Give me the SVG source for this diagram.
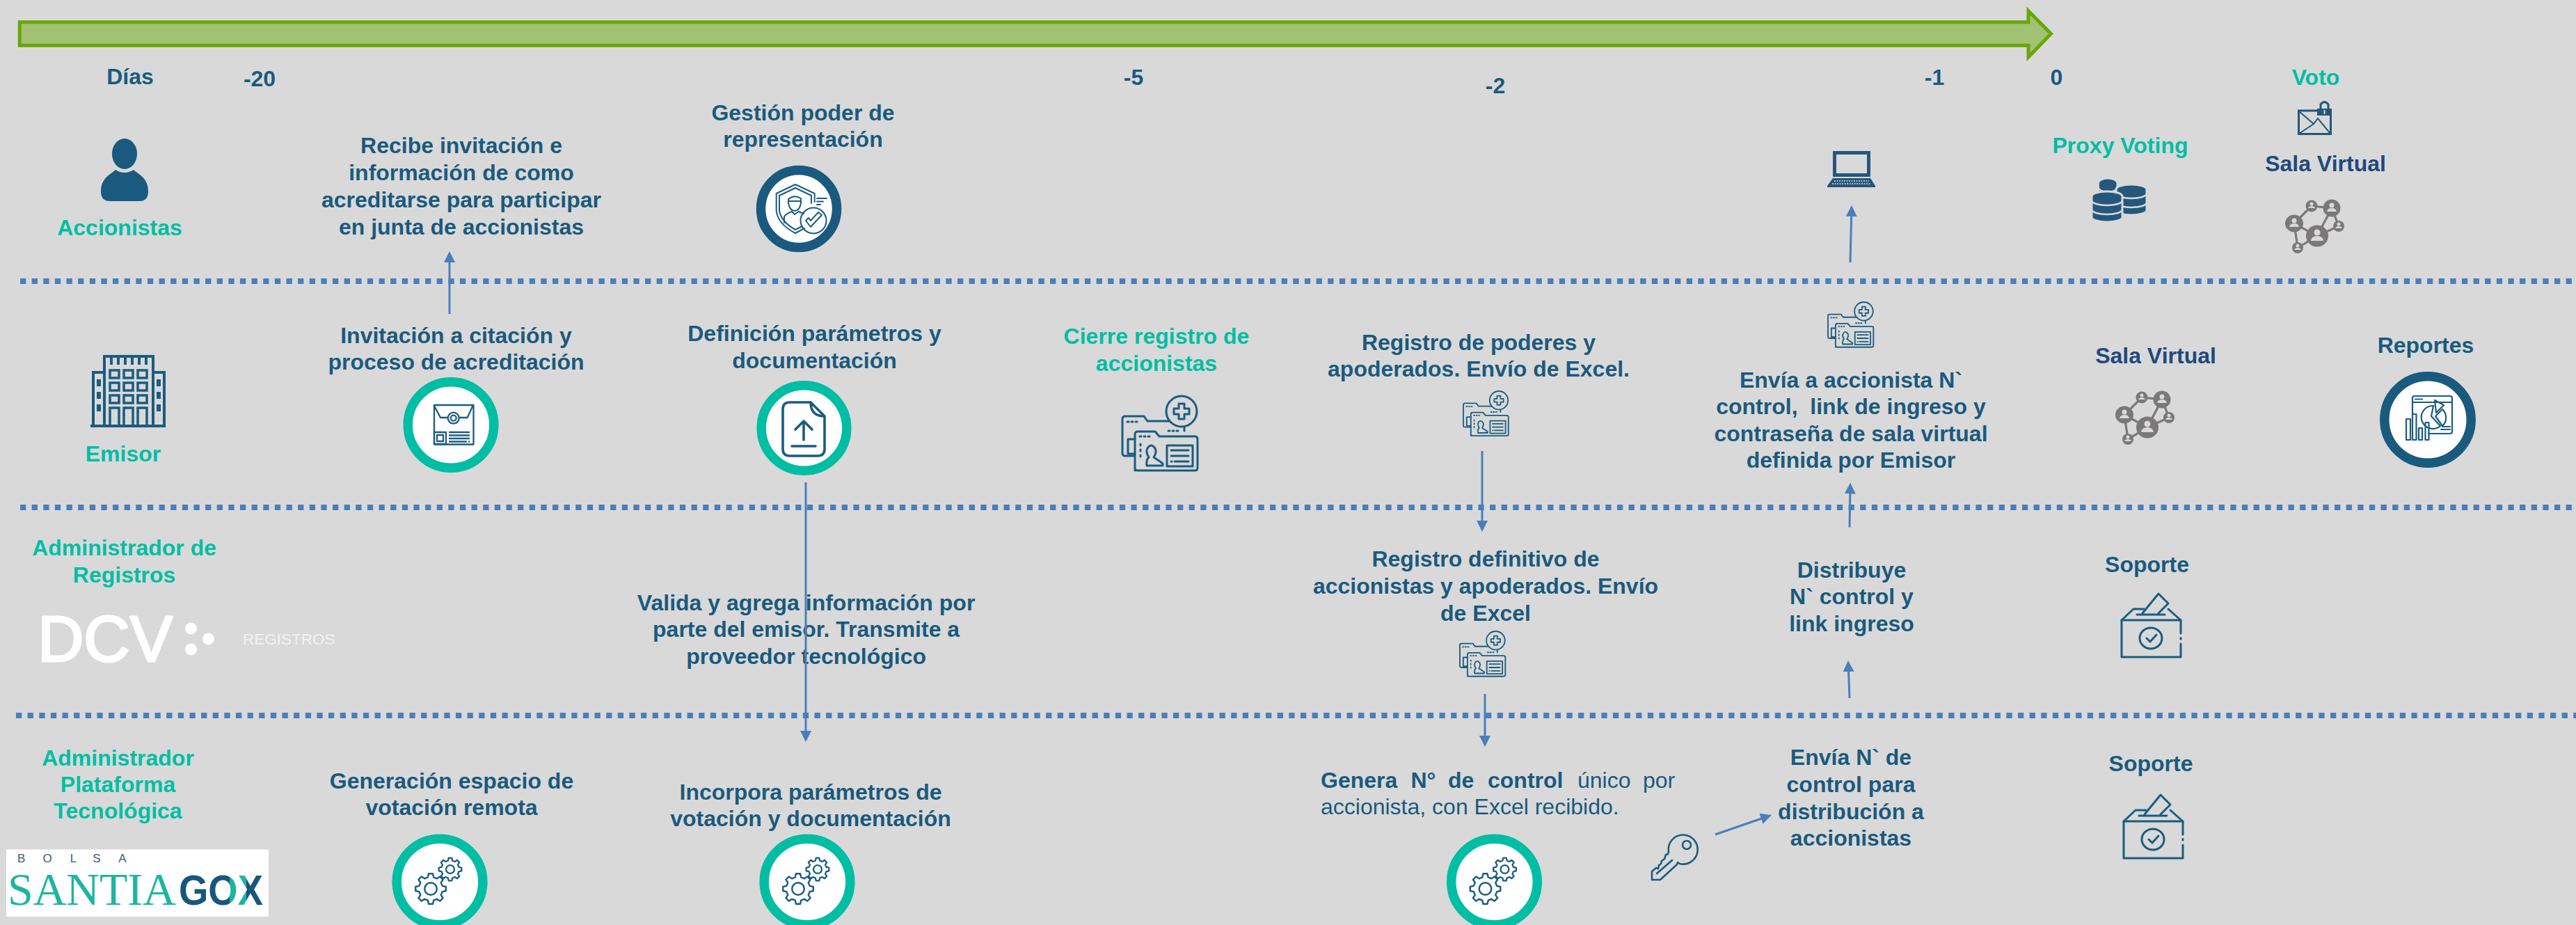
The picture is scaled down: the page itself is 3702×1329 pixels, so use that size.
<svg xmlns="http://www.w3.org/2000/svg" width="3702" height="1329" viewBox="0 0 3702 1329">
<style>
text{font-family:"Liberation Sans",Arial,sans-serif;font-size:32px;font-weight:700;fill:#1a5a7e;text-anchor:middle}
.g{fill:#00bea4}
.n{fill:#1f497d}
.l{text-anchor:start}
.r{font-weight:400}
.ln{fill:none;stroke:#1b5c80;stroke-width:3;stroke-linejoin:round;stroke-linecap:round}
.ring-t{fill:#fff;stroke:#00bea4;stroke-width:13.5}
.ring-d{fill:#fff;stroke:#1a5a7e;stroke-width:13.5}
.dash{fill:none;stroke:#4a7ebb;stroke-width:8;stroke-dasharray:8.3 8.33}
.c{fill:none;stroke:#4a7ebb;stroke-width:3;marker-end:url(#ah)}
.fd{fill:#24577b}
.gap{fill:none;stroke:#d9d9d9;stroke-width:2.5}
.bo{font-size:17px;font-weight:400;fill:#3c5a78}
</style>
<defs>
<marker id="ah" markerUnits="userSpaceOnUse" markerWidth="18" markerHeight="18" refX="10" refY="8" orient="auto"><path d="M0,0L16,8L0,16Z" fill="#4a7ebb"/></marker>
<linearGradient id="xg" gradientUnits="userSpaceOnUse" x1="257" y1="0" x2="378" y2="0"><stop offset="0.6" stop-color="#17577b"/><stop offset="0.6" stop-color="#1db5a0"/><stop offset="0.8" stop-color="#1db5a0"/><stop offset="0.8" stop-color="#17577b"/></linearGradient>
<g id="gears" class="ln">
<g transform="translate(-13,10) scale(.22)" stroke-width="11"><polygon points="75.7,-18.9 99,-13.9 99,13.9 75.7,18.9 66.9,40.2 79.9,60.2 60.2,79.9 40.2,66.9 18.9,75.7 13.9,99 -13.9,99 -18.9,75.7 -40.2,66.9 -60.2,79.9 -79.9,60.2 -66.9,40.2 -75.7,18.9 -99,13.9 -99,-13.9 -75.7,-18.9 -66.9,-40.2 -79.9,-60.2 -60.2,-79.9 -40.2,-66.9 -18.9,-75.7 -13.9,-99 13.9,-99 18.9,-75.7 40.2,-66.9 60.2,-79.9 79.9,-60.2 66.9,-40.2"/><circle r="40"/></g>
<g transform="translate(15,-18) scale(.165)" stroke-width="14"><polygon points="75.7,-18.9 99,-13.9 99,13.9 75.7,18.9 66.9,40.2 79.9,60.2 60.2,79.9 40.2,66.9 18.9,75.7 13.9,99 -13.9,99 -18.9,75.7 -40.2,66.9 -60.2,79.9 -79.9,60.2 -66.9,40.2 -75.7,18.9 -99,13.9 -99,-13.9 -75.7,-18.9 -66.9,-40.2 -79.9,-60.2 -60.2,-79.9 -40.2,-66.9 -18.9,-75.7 -13.9,-99 13.9,-99 18.9,-75.7 40.2,-66.9 60.2,-79.9 79.9,-60.2 66.9,-40.2"/><circle r="36"/></g>
</g>
<g id="folder" class="ln" stroke-width="3.4">
<path d="M16,86H4Q0,86 0,82V33Q0,29 4,29H31L36,36H89V50"/>
<path d="M18,107V55Q18,51 22,51H47L53,58H104Q108,58 108,62V103Q108,107 104,107H22Q18,107 18,103Z"/>
<circle cx="85" cy="22" r="22" fill="#d9d9d9"/>
<path d="M81,11H89V18H96V26H89V33H81V26H74V18H81Z"/>
<path d="M8,62H18M8,62V83H18"/>
<path d="M7,37H9M13,37H15M19,37H21M66,50H68M72,50H74M78,50H80M25,58H27M31,58H33M37,58H39"/>
<path d="M26,69V71M26,77V79M26,85V87"/>
<path d="M35,100Q34,91 38,88Q33,80 36,75Q41,67 47,75Q50,81 45,88Q53,93 58,97V100Z"/>
<rect x="64" y="71" width="37" height="30"/>
<path d="M70,78H95M70,86H95M75,94H95M70,94H71"/>
</g>
<g id="network">
<g fill="none" stroke="#7a7878" stroke-width="3.2"><path d="M38,9L67,12L77,38L46,52L67,12M38,9L13,34L46,52L18,69L13,34"/></g>
<g fill="#7a7878"><ellipse cx="46" cy="52" rx="16" ry="15.5"/><ellipse cx="13" cy="34" rx="13" ry="12.5"/><ellipse cx="67" cy="12" rx="12.5" ry="12.5"/><circle cx="38" cy="9" r="8.5"/><circle cx="77" cy="38" r="8"/><circle cx="18" cy="69" r="8"/></g>
<g fill="#d9d9d9"><circle cx="46" cy="47" r="4.5"/><path d="M37,59Q38,52 46,52Q54,52 55,59Z"/><circle cx="13" cy="30" r="3.5"/><path d="M6,39Q7,34 13,34Q19,34 20,39Z"/><circle cx="67" cy="8" r="3.5"/><path d="M60,17Q61,12 67,12Q73,12 74,17Z"/><circle cx="38" cy="6" r="2.5"/><path d="M33,12Q34,9 38,9Q42,9 43,12Z"/><circle cx="77" cy="35" r="2.5"/><path d="M72,41Q73,38 77,38Q81,38 82,41Z"/><circle cx="18" cy="66" r="2.5"/><path d="M13,72Q14,69 18,69Q22,69 23,72Z"/></g>
</g>
<g id="ballot" class="ln" style="stroke-width:3">
<path d="M85,58V39H0V92H85V73M85,64.5V66"/>
<path d="M0,39L17,23H32M67,23L85,39M22,31H62"/>
<path d="M30,29L53,1L67,15L53,29"/>
<ellipse cx="42" cy="65" rx="16" ry="15"/>
<path d="M36,65L41,70L50,60"/>
</g>
<g id="stack">
<path d="M0,7A22,7 0 0 1 44,7V37A22,7 0 0 1 0,37Z" fill="#24577b" stroke="#d9d9d9" stroke-width="3"/>
<path class="gap" d="M0,13A22,7 0 0 0 44,13M0,26A22,7 0 0 0 44,26"/>
</g>
</defs>
<rect width="3702" height="1329" fill="#d9d9d9"/>

<g id="timeline"><path d="M28.2,31.8H2915V15.5L2947.5,48.5L2915,82V65.2H28.2Z" fill="#a2c274" stroke="#68a60a" stroke-width="5" stroke-miterlimit="10"/></g>

<g id="lanes">
<path class="dash" d="M29,404H3702"/>
<path class="dash" d="M29,729H3702"/>
<path class="dash" d="M23,1028H3702"/>
</g>

<g id="days">
<text x="187" y="121">Días</text>
<text x="373" y="124">-20</text>
<text x="1629" y="122">-5</text>
<text x="2149" y="134">-2</text>
<text x="2780" y="122">-1</text>
<text x="2955.5" y="122">0</text>
</g>

<g id="accionistas">
<ellipse cx="179" cy="221" rx="18" ry="22" fill="#1a5a7e"/>
<path d="M145,275C145,255 160,250 166,244Q179,252 192,244C198,250 213,255 213,275Q213,289 200,289H158Q145,289 145,275Z" fill="#1a5a7e"/>
<text class="g" x="172" y="338">Accionistas</text>
</g>

<g id="recibe">
<text x="663" y="220">Recibe invitación e</text>
<text x="663" y="259">información de como</text>
<text x="663" y="298">acreditarse para participar</text>
<text x="663" y="337">en junta de accionistas</text>
</g>

<g id="gestion">
<text x="1154" y="173">Gestión poder de</text>
<text x="1154" y="211">representación</text>
<ellipse class="ring-d" cx="1148" cy="300" rx="54.5" ry="55.5"/>
<g class="ln" style="stroke-width:2">
<path d="M1143,265L1170.7,278V290M1143,265L1115.7,278V303Q1118,322 1143,335L1156,328"/>
<path d="M1143,270L1166,281V292M1143,270L1120,281V303Q1123,319 1143,330L1153,325"/>
<path d="M1133,286Q1142,279 1151,285V292Q1149,303 1142,303Q1135,303 1133,292ZM1133,289H1151"/>
<path d="M1127,320V311Q1130,307 1138,304L1142,308L1148,304L1155,307"/>
<circle cx="1169" cy="317" r="18.5"/>
<path d="M1158,317L1165,326L1181,309L1176,305L1165,317L1162,313Z"/>
<path d="M1174,285H1188M1174,289.5H1183M1174,294H1179"/>
</g>
</g>

<g id="laptop">
<rect x="2636.5" y="219.5" width="49" height="32" fill="none" stroke="#24577b" stroke-width="5"/>
<path class="fd" d="M2634,256H2688L2695,267H2626Z"/>
<rect class="fd" x="2626" y="267" width="69" height="2"/>
<path d="M2636,260H2686M2633,264H2688" stroke="#d9d9d9" stroke-width="1.5" stroke-dasharray="2 1.5"/>
</g>

<g id="proxy">
<text class="g" x="3047" y="220">Proxy Voting</text>
<g transform="translate(3016,256) scale(.6,1)"><use href="#stack"/></g>
<use href="#stack" transform="translate(3041,265)"/>
<use href="#stack" transform="translate(3006,275)"/>
</g>

<g id="voto">
<text class="g" x="3328" y="122">Voto</text>
<rect x="3303.5" y="159" width="46" height="33.5" fill="none" stroke="#24577b" stroke-width="3"/>
<path d="M3304,160L3325,178L3331,170L3349,192M3304,192L3325,178" fill="none" stroke="#24577b" stroke-width="2"/>
<rect class="fd" x="3330" y="156" width="21" height="10"/>
<path d="M3335,156V150Q3340.5,143 3346,150V156" fill="none" stroke="#24577b" stroke-width="3"/>
<rect x="3339.5" y="158" width="2" height="6" fill="#d9d9d9"/>
</g>

<g id="sala-virtual-voto">
<text class="n" x="3342" y="246">Sala Virtual</text>
<use href="#network" transform="translate(3284,287)"/>
</g>

<g id="emisor">
<g fill="none" stroke="#1b5c80" stroke-width="4">
<path d="M150,612V512H220V612"/>
<path d="M150,535H134V612M220,535H236V612"/>
<path d="M130,612H238"/>
<path d="M160,512V524M170,512V524M180,512V524M190,512V524M200,512V524M210,512V524"/>
</g>
<g fill="none" stroke="#1b5c80" stroke-width="3.5">
<rect x="158" y="532" width="13" height="11"/><rect x="178" y="532" width="13" height="11"/><rect x="198" y="532" width="13" height="11"/>
<rect x="158" y="550" width="13" height="11"/><rect x="178" y="550" width="13" height="11"/><rect x="198" y="550" width="13" height="11"/>
<rect x="158" y="568" width="13" height="11"/><rect x="178" y="568" width="13" height="11"/><rect x="198" y="568" width="13" height="11"/>
<rect x="158" y="586" width="13" height="26"/><rect x="178" y="586" width="13" height="26"/><rect x="198" y="586" width="13" height="26"/>
</g>
<g fill="#1b5c80">
<rect x="139" y="545" width="6" height="10"/><rect x="139" y="563" width="6" height="10"/><rect x="139" y="581" width="6" height="10"/>
<rect x="225" y="545" width="6" height="10"/><rect x="225" y="563" width="6" height="10"/><rect x="225" y="581" width="6" height="10"/>
</g>
<text class="g" x="177" y="663">Emisor</text>
</g>

<g id="invitacion">
<text x="655.5" y="493">Invitación a citación y</text>
<text x="655.5" y="531">proceso de acreditación</text>
<circle class="ring-t" cx="648" cy="610.5" r="61.8"/>
<g class="ln" style="stroke-width:2.3;stroke-linecap:butt">
<rect x="624" y="582" width="56.5" height="56.5"/>
<path d="M624,583L633,600H644M660,600H671.7L679.5,583"/>
<circle cx="651.7" cy="600.7" r="8"/><circle cx="651.7" cy="600.7" r="4"/>
<rect x="624" y="621" width="17" height="17"/><rect x="628" y="625" width="9" height="9"/>
<path d="M645,621H675M645,625.5H675M645,630H675M645,634.5H671M673,634.5H675"/>
</g>
</g>

<g id="definicion">
<text x="1170.5" y="490">Definición parámetros y</text>
<text x="1170.5" y="529">documentación</text>
<circle class="ring-t" cx="1155.5" cy="615" r="61.3"/>
<g class="ln" style="stroke-width:3.6">
<path d="M1165,578H1135Q1125,578 1125,588V645Q1125,655 1135,655H1175Q1185,655 1185,645V598L1165,578Q1165,598 1185,598"/>
<path d="M1155,632V605M1143,617L1155,605L1167,617M1138,641H1172"/>
</g>
</g>

<g id="cierre">
<text class="g" x="1662" y="494">Cierre registro de</text>
<text class="g" x="1662" y="533">accionistas</text>
<use href="#folder" transform="translate(1613,569)"/>
</g>

<g id="registro-poderes">
<text x="2125" y="503">Registro de poderes y</text>
<text x="2125" y="541">apoderados. Envío de Excel.</text>
<use href="#folder" transform="translate(2103,562) scale(.6)"/>
</g>

<g id="envia-accionista">
<use href="#folder" transform="translate(2627,434) scale(.605)"/>
<text x="2660" y="557">Envía a accionista N`</text>
<text x="2660" y="595" xml:space="preserve">control,  link de ingreso y</text>
<text x="2660" y="634">contraseña de sala virtual</text>
<text x="2660" y="672">definida por Emisor</text>
</g>

<g id="sala-virtual-emisor">
<text class="n" x="3098" y="522">Sala Virtual</text>
<use href="#network" transform="translate(3040,562)"/>
</g>

<g id="reportes">
<text x="3486" y="507">Reportes</text>
<circle class="ring-d" cx="3489" cy="603" r="62.2"/>
<g class="ln" style="stroke-width:2.2">
<path d="M3467,595V572Q3467,569 3470,569H3521Q3524,569 3524,572V620Q3524,623 3521,623H3490M3467,578H3524"/>
<path d="M3471,573.5H3473M3475,573.5H3477M3479,573.5H3481"/>
<path d="M3497,583A16.5,16.5 0 1 0 3507,612L3494,598Z"/>
<path d="M3510,588A16.5,16.5 0 0 1 3510,612L3500,598Z"/>
<path d="M3499,575L3512,582L3501,593Z"/>
<rect x="3458" y="602" width="6" height="30"/><rect x="3467" y="595" width="5.5" height="37"/><rect x="3476" y="615" width="5" height="17"/><rect x="3485.5" y="607" width="5" height="25"/>
<path d="M3510,613H3521M3508,617H3521"/>
</g>
</g>

<g id="admin-registros">
<text class="g" x="178.6" y="798">Administrador de</text>
<text class="g" x="178.6" y="836.5">Registros</text>
<text x="151" y="950" style="font-size:92px;font-weight:400;fill:#fff;stroke:#fff;stroke-width:3;stroke-linejoin:round">DCV</text>
<g fill="#fff"><circle cx="274.5" cy="903" r="8.5"/><circle cx="299.5" cy="918" r="8.5"/><circle cx="274.5" cy="933" r="8.5"/></g>
<text class="l r" x="349" y="926" style="font-size:22.5px;fill:#f2f2f2">REGISTROS</text>
</g>

<g id="registro-definitivo">
<text x="2135" y="814">Registro definitivo de</text>
<text x="2135" y="853">accionistas y apoderados. Envío</text>
<text x="2135" y="892">de Excel</text>
<use href="#folder" transform="translate(2098,907) scale(.605)"/>
</g>

<g id="valida">
<text x="1158.6" y="877">Valida y agrega información por</text>
<text x="1158.6" y="915">parte del emisor. Transmite a</text>
<text x="1158.6" y="954">proveedor tecnológico</text>
</g>

<g id="distribuye">
<text x="2661" y="830">Distribuye</text>
<text x="2661" y="868">N` control y</text>
<text x="2661" y="906.5">link ingreso</text>
</g>

<g id="soporte-registros">
<text x="3085.5" y="822">Soporte</text>
<use href="#ballot" transform="translate(3049,852)"/>
</g>

<g id="admin-plataforma">
<text class="g" x="169.5" y="1100">Administrador</text>
<text class="g" x="169.5" y="1138">Plataforma</text>
<text class="g" x="169.5" y="1176">Tecnológica</text>
<rect x="9" y="1220.5" width="377" height="96.5" fill="#fff"/>
<text class="bo" x="30.6" y="1239.4">B</text>
<text class="bo" x="68" y="1239.4">O</text>
<text class="bo" x="105.6" y="1239.4">L</text>
<text class="bo" x="139" y="1239.4">S</text>
<text class="bo" x="176" y="1239.4">A</text>
<text class="l r" x="11" y="1300" style="font-family:'Liberation Serif',serif;font-size:66px;fill:#1db5a0">SANTIA</text>
<text class="l" x="257" y="1300" textLength="121" lengthAdjust="spacingAndGlyphs" style="font-size:61px;fill:url(#xg)">GOX</text>
</g>

<g id="generacion">
<text x="649" y="1133">Generación espacio de</text>
<text x="649" y="1171">votación remota</text>
<circle class="ring-t" cx="632" cy="1267" r="61.8"/>
<use href="#gears" transform="translate(632,1267)"/>
</g>

<g id="incorpora">
<text x="1165" y="1149">Incorpora parámetros de</text>
<text x="1165" y="1187">votación y documentación</text>
<circle class="ring-t" cx="1160" cy="1267" r="61.8"/>
<use href="#gears" transform="translate(1160,1267)"/>
</g>

<g id="genera">
<text class="l" x="1898" y="1132">Genera</text>
<text class="l" x="2027.5" y="1132">N°</text>
<text class="l" x="2081" y="1132">de</text>
<text class="l" x="2138" y="1132">control</text>
<text class="l r" x="2267" y="1132">único</text>
<text class="l r" x="2361" y="1132">por</text>
<text class="l r" x="1898" y="1170">accionista, con Excel recibido.</text>
<circle class="ring-t" cx="2147.5" cy="1267" r="61.8"/>
<use href="#gears" transform="translate(2147.5,1267)"/>
</g>

<g id="key">
<g class="ln" transform="translate(2373,1199)" style="stroke-width:2.6">
<path d="M24,28L25,25A21,21 0 1 1 41,42L38,40L37,43L13,65H1V53L7,48L10,49L11,44L14,42L15,38L19,35L21,29Z"/>
<circle cx="51" cy="15" r="6"/>
<path d="M8,56L30,37"/>
</g>
</g>

<g id="envia-control">
<text x="2660" y="1099">Envía N`  de</text>
<text x="2660" y="1138">control para</text>
<text x="2660" y="1177">distribución a</text>
<text x="2660" y="1215">accionistas</text>
</g>

<g id="soporte-plataforma">
<text x="3091" y="1108">Soporte</text>
<use href="#ballot" transform="translate(3052,1141)"/>
</g>

<g id="connectors">
<path class="c" d="M646,451V367"/>
<path class="c" d="M1158,693V1060"/>
<path class="c" d="M2130,648V758"/>
<path class="c" d="M2134,997V1067"/>
<path class="c" d="M2659,377L2660.9,301"/>
<path class="c" d="M2658,757.5L2659,699.5"/>
<path class="c" d="M2658,1003L2656.2,955"/>
<path class="c" d="M2465,1199L2540.3,1173"/>
</g>
</svg>
